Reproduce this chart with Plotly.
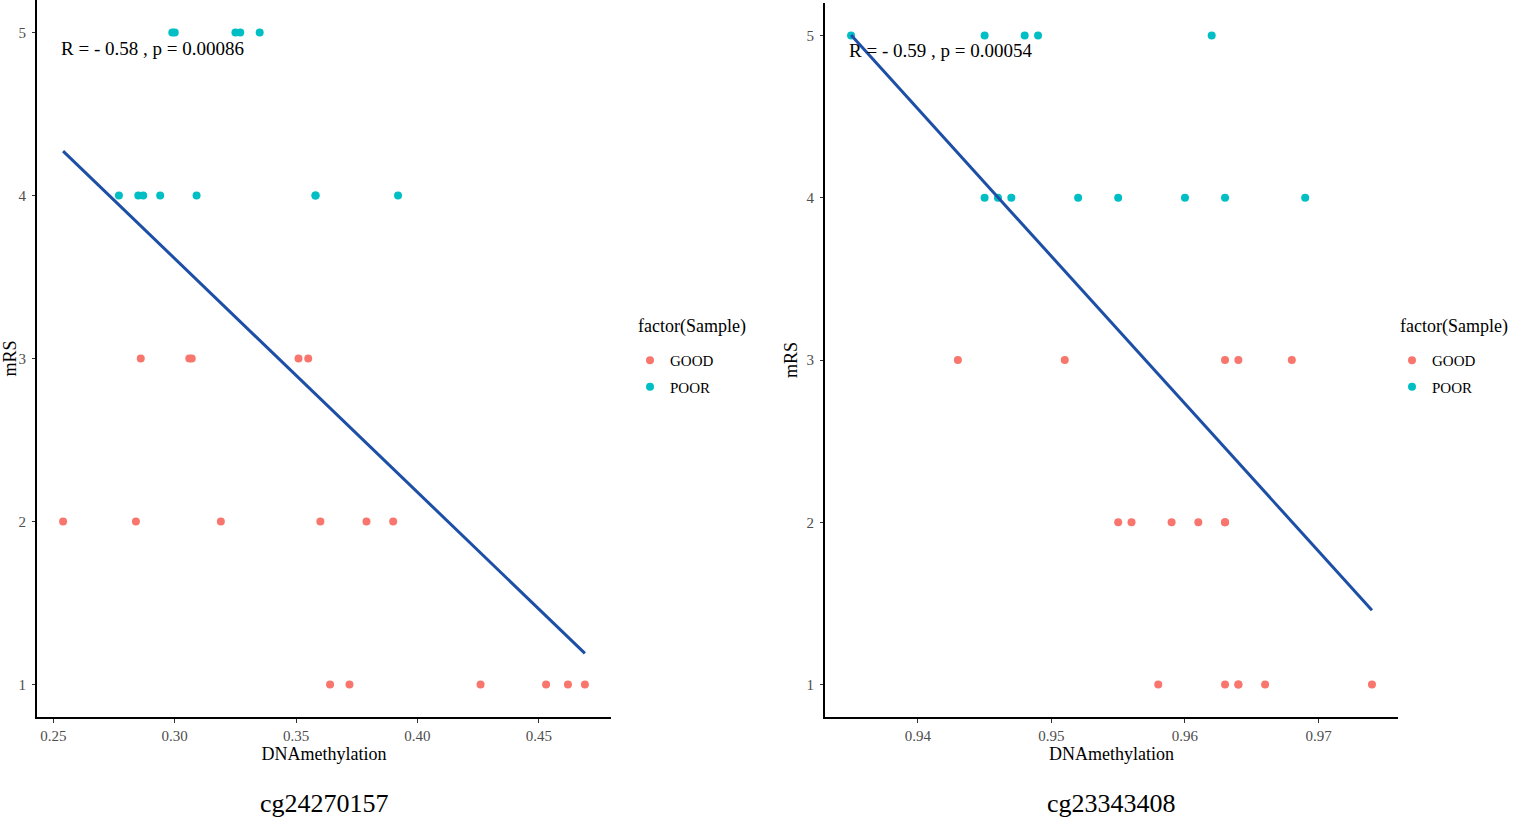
import numpy as np
import plotly.graph_objects as go
from plotly.subplots import make_subplots

# cg24270157 panel
cg1_good_x = [0.286, 0.306, 0.307, 0.351, 0.355,
              0.254, 0.284, 0.319, 0.360, 0.379, 0.390,
              0.364, 0.372, 0.426, 0.453, 0.462, 0.469]
cg1_good_y = [3, 3, 3, 3, 3,
              2, 2, 2, 2, 2, 2,
              1, 1, 1, 1, 1, 1]
cg1_poor_x = [0.299, 0.300, 0.325, 0.327, 0.335,
              0.277, 0.285, 0.287, 0.294, 0.309, 0.358, 0.358, 0.392]
cg1_poor_y = [5, 5, 5, 5, 5,
              4, 4, 4, 4, 4, 4, 4, 4]
cg1_label = "R = - 0.58 , p = 0.00086"
cg1_ticks = [0.25, 0.30, 0.35, 0.40, 0.45]

# cg23343408 panel
cg2_good_x = [0.943, 0.951, 0.963, 0.964, 0.968,
              0.955, 0.956, 0.959, 0.961, 0.963, 0.963,
              0.958, 0.963, 0.964, 0.964, 0.966, 0.974]
cg2_good_y = [3, 3, 3, 3, 3,
              2, 2, 2, 2, 2, 2,
              1, 1, 1, 1, 1, 1]
cg2_poor_x = [0.935, 0.945, 0.948, 0.949, 0.962,
              0.945, 0.946, 0.947, 0.952, 0.955, 0.960, 0.963, 0.969]
cg2_poor_y = [5, 5, 5, 5, 5,
              4, 4, 4, 4, 4, 4, 4, 4]
cg2_label = "R = - 0.59 , p = 0.00054"
cg2_ticks = [0.94, 0.95, 0.96, 0.97]

probes = ["cg24270157", "cg23343408"]
mrs_ticks = [1, 2, 3, 4, 5]

GOOD_COL = "#F8766D"
POOR_COL = "#00BFC4"
LINE_COL = "#1D4FA6"
FONT = "Liberation Serif, Times New Roman, serif"

W, H = 1535, 822


def fx(p):
    return p / W


def fy(p):
    return 1 - p / H


fig = make_subplots(rows=1, cols=2)

panels = [
    (cg1_good_x, cg1_good_y, cg1_poor_x, cg1_poor_y, cg1_label, cg1_ticks, "legend"),
    (cg2_good_x, cg2_good_y, cg2_poor_x, cg2_poor_y, cg2_label, cg2_ticks, "legend2"),
]

for i, (gx, gy, px_, py_, lab, ticks, leg) in enumerate(panels):
    col = i + 1
    fig.add_trace(go.Scatter(x=gx, y=gy, mode="markers", name="GOOD",
                             marker=dict(color=GOOD_COL, size=8),
                             legend=leg, legendgroup="good%d" % col),
                  row=1, col=col)
    fig.add_trace(go.Scatter(x=px_, y=py_, mode="markers", name="POOR",
                             marker=dict(color=POOR_COL, size=8),
                             legend=leg, legendgroup="poor%d" % col),
                  row=1, col=col)

    allx = np.array(gx + px_)
    ally = np.array(gy + py_)
    slope, icpt = np.polyfit(allx, ally, 1)
    lx = np.array([allx.min(), allx.max()])
    fig.add_trace(go.Scatter(x=lx, y=slope * lx + icpt, mode="lines",
                             line=dict(color=LINE_COL, width=3),
                             showlegend=False, hoverinfo="skip"),
                  row=1, col=col)

    pad = (allx.max() - allx.min()) * 0.05
    fig.update_xaxes(range=[allx.min() - pad, allx.max() + pad],
                     tickvals=ticks, tickformat=".2f", row=1, col=col)

    xref = "x" if col == 1 else "x2"
    yref = "y" if col == 1 else "y2"
    fig.add_annotation(text=lab, x=allx.min(), y=5, xref=xref, yref=yref,
                       xanchor="left", yanchor="top", xshift=-4, yshift=-3,
                       showarrow=False, font=dict(size=19, color="black"))
    fig.add_annotation(text=probes[i], x=0.5, y=fy(803),
                       xref=xref + " domain", yref="paper",
                       xanchor="center", yanchor="middle",
                       showarrow=False, font=dict(size=26, color="black"))
    # legend title
    fig.add_annotation(text="factor(Sample)", x=fx([636, 1398][i]), y=fy(326),
                       xref="paper", yref="paper",
                       xanchor="left", yanchor="middle",
                       showarrow=False, font=dict(size=18, color="black"))

fig.update_xaxes(showline=True, linecolor="black", linewidth=2,
                 ticks="outside", ticklen=4, tickcolor="#333333",
                 showgrid=False, zeroline=False,
                 tickfont=dict(size=15, color="#4D4D4D"),
                 title=dict(text="DNAmethylation", font=dict(size=18, color="black"),
                            standoff=0))
fig.update_yaxes(range=[0.8, 5.2], tickvals=mrs_ticks,
                 showline=True, linecolor="black", linewidth=2,
                 ticks="outside", ticklen=3, tickcolor="#333333",
                 showgrid=False, zeroline=False, ticklabelstandoff=3,
                 tickfont=dict(size=15, color="#4D4D4D"),
                 title=dict(text="mRS", font=dict(size=18, color="black"),
                            standoff=4))

leg_common = dict(xanchor="left", yanchor="top", font=dict(size=15),
                  tracegroupgap=4, bgcolor="rgba(0,0,0,0)")

fig.update_layout(
    xaxis=dict(domain=[fx(37), fx(611)]),
    xaxis2=dict(domain=[fx(825), fx(1398)]),
    yaxis=dict(domain=[fy(717), 1.0]),
    yaxis2=dict(domain=[fy(717), fy(3)]),
    width=W, height=H,
    margin=dict(l=0, r=0, t=0, b=0),
    plot_bgcolor="white", paper_bgcolor="white",
    font=dict(family=FONT, color="black"),
    legend=dict(x=fx(630), y=fy(344), **leg_common),
    legend2=dict(x=fx(1392), y=fy(344), **leg_common),
)

# drop the default page margin so the figure sits at the window corner
fig.write_html("out.html", config={"displayModeBar": False},
               post_script="document.body.style.margin='0';")
